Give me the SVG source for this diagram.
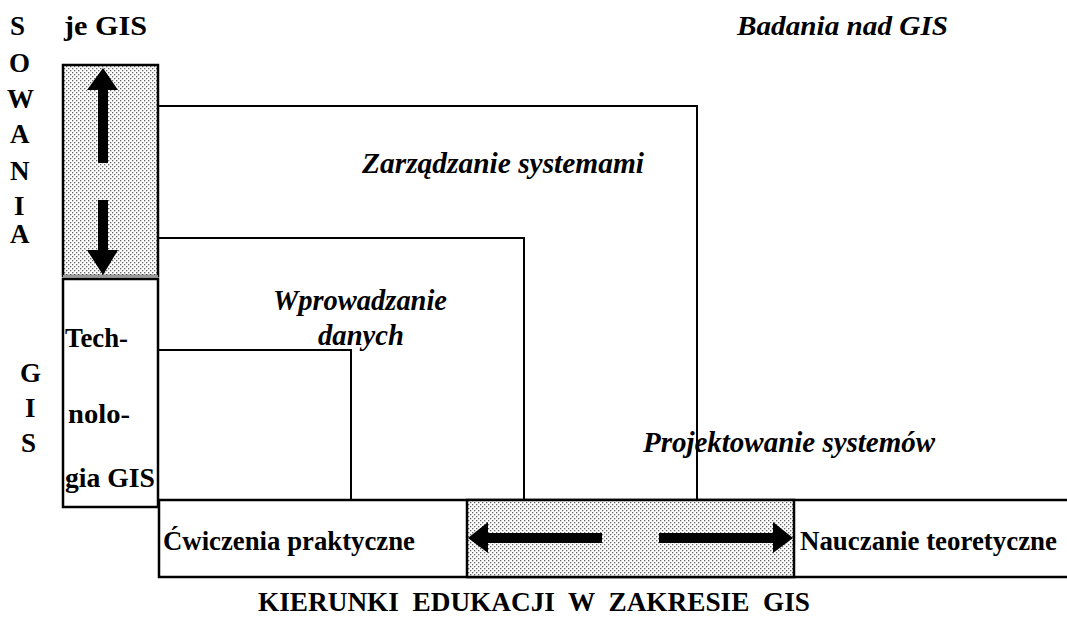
<svg xmlns="http://www.w3.org/2000/svg" width="1067" height="621" viewBox="0 0 1067 621">
<style>
.ln{fill:none;stroke:#000;stroke-width:2}
.box{stroke:#000;stroke-width:2.5}
</style>
<defs>
<pattern id="dots" width="4" height="4" patternUnits="userSpaceOnUse">
<rect width="4" height="4" fill="#fff"/>
<rect x="0" y="0" width="1.3" height="1.3" fill="#666"/>
<rect x="2" y="2" width="1.3" height="1.3" fill="#666"/>
</pattern>
</defs>
<rect width="1067" height="621" fill="#fff"/>
<g font-family="'Liberation Serif', 'Times New Roman', serif" font-weight="bold" font-size="27" fill="#000">
<g id="labels-left">
<text x="10" y="35">S</text>
<text x="9" y="72">O</text>
<text x="7" y="108">W</text>
<text x="10" y="143">A</text>
<text x="10" y="180">N</text>
<text x="14" y="215">I</text>
<text x="10" y="243">A</text>
<text x="20" y="382">G</text>
<text x="25" y="417">I</text>
<text x="21" y="452">S</text>
</g>
<g id="title-top">
<text x="64" y="35" textLength="83" lengthAdjust="spacingAndGlyphs">je GIS</text>
<text font-style="italic" x="737" y="35" textLength="211" lengthAdjust="spacingAndGlyphs">Badania nad GIS</text>
</g>
<g id="connectors">
<polyline class="ln" points="159,106 697,106 697,500"/>
<polyline class="ln" points="159,238 524,238 524,500"/>
<polyline class="ln" points="159,350 351,350 351,500"/>
</g>
<g id="vertical-bar">
<rect x="63" y="65" width="95" height="211" fill="url(#dots)" class="box"/>
<rect x="63" y="279" width="95" height="228" fill="#fff" class="box"/>
<line x1="63" y1="276" x2="158" y2="276" stroke="#999" stroke-width="2"/>
<polygon points="103,68 118,90 108,90 108,163 98,163 98,90 87,90" fill="#000"/>
<polygon points="98,200 108,200 108,250 118,250 103,275 87,250 98,250" fill="#000"/>
<text x="65" y="347" textLength="63" lengthAdjust="spacingAndGlyphs">Tech-</text>
<text x="68" y="423" textLength="62" lengthAdjust="spacingAndGlyphs">nolo-</text>
<text x="65" y="487" textLength="90" lengthAdjust="spacingAndGlyphs">gia GIS</text>
</g>
<g id="horizontal-bar">
<rect x="159" y="500" width="910" height="77" fill="#fff" class="box"/>
<rect x="467" y="500" width="327" height="77" fill="url(#dots)" class="box"/>
<polygon points="468,538 488,522 488,533 602,533 602,543 488,543 488,553" fill="#000"/>
<polygon points="793,538 773,522 773,533 659,533 659,543 773,543 773,553" fill="#000"/>
<text x="163" y="550" textLength="252" lengthAdjust="spacingAndGlyphs">Ćwiczenia praktyczne</text>
<text x="800" y="550" textLength="257" lengthAdjust="spacingAndGlyphs">Nauczanie teoretyczne</text>
</g>
<g id="area-labels" font-style="italic" font-size="29">
<text x="362" y="173" textLength="282" lengthAdjust="spacingAndGlyphs">Zarządzanie systemami</text>
<text x="273" y="310" textLength="174" lengthAdjust="spacingAndGlyphs">Wprowadzanie</text>
<text x="318" y="345" textLength="86" lengthAdjust="spacingAndGlyphs">danych</text>
<text x="643" y="452" textLength="292" lengthAdjust="spacingAndGlyphs">Projektowanie systemów</text>
</g>
<g id="caption">
<text x="258" y="611" textLength="552" lengthAdjust="spacingAndGlyphs" xml:space="preserve">KIERUNKI  EDUKACJI  W  ZAKRESIE  GIS</text>
</g>
</g>
</svg>
